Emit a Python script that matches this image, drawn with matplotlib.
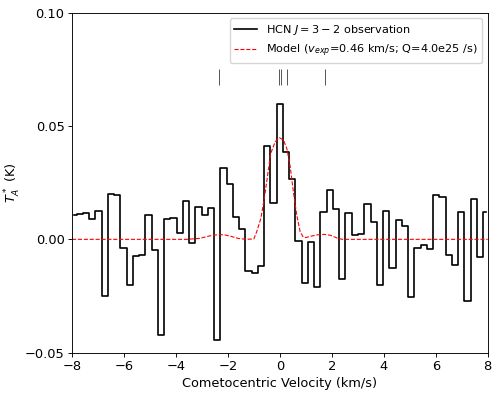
import numpy as np
import matplotlib
matplotlib.use("Agg")
import matplotlib.pyplot as plt

# observed HCN J=3-2 spectrum, one value per channel (K)
CHAN_WIDTH = 0.2406
V_FIRST = -7.94
obs_ta = [
    0.0107, 0.0113, 0.0117, 0.0091, 0.0126, -0.0250, 0.0199, 0.0197,
    -0.0038, -0.0202, -0.0075, -0.0070, 0.0107, -0.0047, -0.0424, 0.0091,
    0.0093, 0.0026, 0.0171, -0.0018, 0.0144, 0.0107, 0.0137, -0.0444,
    0.0313, 0.0243, 0.0097, 0.0044, -0.0140, -0.0147, -0.0118, 0.0413,
    0.0159, 0.0597, 0.0387, 0.0266, -0.0006, -0.0194, -0.0013, -0.0212,
    0.0119, 0.0216, 0.0134, -0.0174, 0.0116, 0.0019, 0.0024, 0.0157,
    0.0076, -0.0201, 0.0126, -0.0126, 0.0084, 0.0057, -0.0254, -0.0037,
    -0.0026, -0.0043, 0.0197, 0.0188, -0.0069, -0.0112, 0.0121, -0.0274,
    0.0176, -0.0076, 0.0121,
]
obs_v = V_FIRST + CHAN_WIDTH * np.arange(len(obs_ta))

# model curve
model_v = [-8.0, -3.6, -3.1, -2.75, -2.5, -2.3, -2.1, -1.9, -1.6, -1.3,
           -1.0, -0.89, -0.73, -0.60, -0.47, -0.35, -0.18, -0.02, 0.14,
           0.27, 0.40, 0.52, 0.65, 0.78, 0.90, 1.0, 1.2, 1.45, 1.7, 1.95,
           2.2, 2.4, 8.0]
model_ta = [0.0, 0.0, 0.0004, 0.0014, 0.0019, 0.0021, 0.0019, 0.0014,
            0.0004, 0.0, 0.0002, 0.0034, 0.0093, 0.0180, 0.0284, 0.0380,
            0.0431, 0.0449, 0.0438, 0.0400, 0.0320, 0.0210, 0.0107, 0.0034,
            0.0010, 0.0008, 0.0014, 0.0020, 0.0022, 0.0018, 0.0006, 0.0,
            0.0]

# hyperfine component positions (km/s)
hfs_v = [-2.34, -0.05, 0.03, 0.29, 1.75]

fig = plt.figure(figsize=(4.99, 3.99), dpi=100)
ax = fig.add_axes([0.1443, 0.1163, 0.8331, 0.8515])

ax.step(obs_v, obs_ta, where="mid", color="black", lw=1.2,
        label="HCN $J=3-2$ observation")
ax.plot(model_v, model_ta, color="red", ls="--", lw=0.8,
        label="Model ($v_{exp}$=0.46 km/s; Q=4.0e25 /s)")
ax.vlines(hfs_v, 0.068, 0.075, color="#555555", lw=0.7)

ax.set_xlim(-8, 8)
ax.set_ylim(-0.05, 0.10)
ax.set_yticks([-0.05, 0.0, 0.05, 0.10])
ax.tick_params(labelsize=9.4, length=2.8, width=0.65, pad=2.6)
for sp in ax.spines.values():
    sp.set_linewidth(0.65)
ax.set_xlabel("Cometocentric Velocity (km/s)", fontsize=9.3, labelpad=2.5)
ax.set_ylabel("$T_A^*$ (K)", fontsize=9.3, labelpad=1)
ax.legend(loc="upper right", fontsize=8.1)

fig.savefig("out.png", dpi=100)
